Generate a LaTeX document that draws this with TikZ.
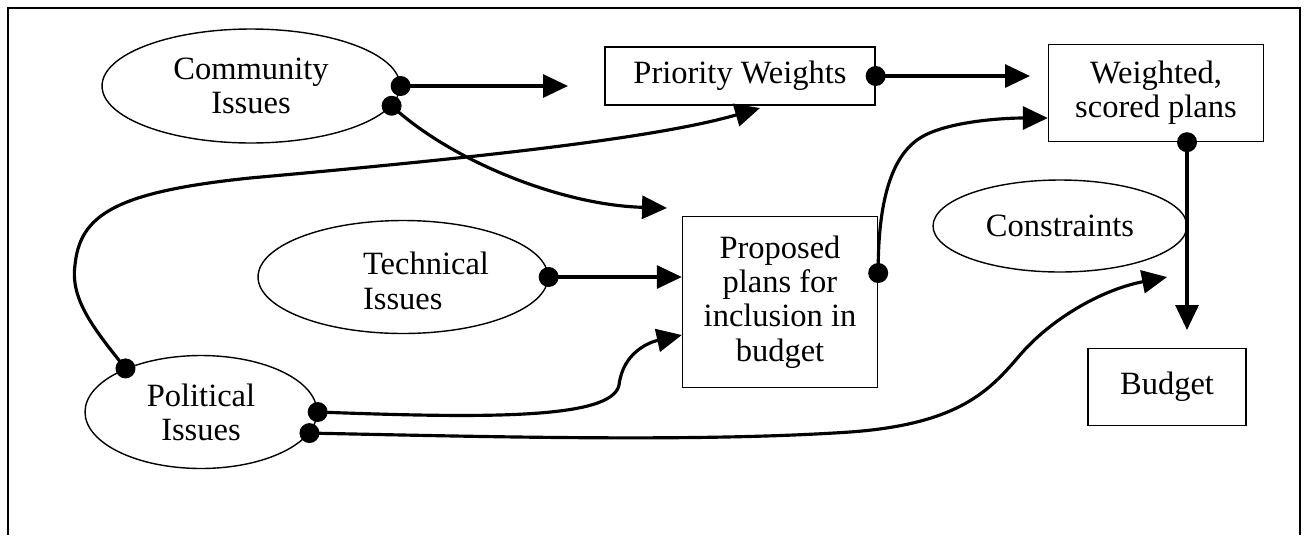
\documentclass[tikz,border=0pt]{standalone}
\usepackage{fontspec}
\setmainfont{Liberation Serif}
\usetikzlibrary{shapes.geometric,arrows.meta,calc}

\tikzset{
  issue/.style={draw, ellipse, line width=0.8pt, inner sep=0pt, align=center},
  plan/.style={draw, rectangle, line width=0.8pt, inner sep=0pt, align=center},
  link/.style={line width=1.8pt, -{Triangle[length=0.5cm,width=0.46cm]}},
}

\begin{document}
\begin{tikzpicture}[x=0.02cm, y=-0.02cm, font=\fontsize{18.5}{19.5}\selectfont]
                \useasboundingbox (0,0) rectangle (1307,535);
                \draw[line width=0.6pt] (8,535) -- (8,8) -- (1300,8) -- (1300,535);

                \node[issue, minimum width=5.96cm, minimum height=2.28cm] (comm) at (251,86) {Community\\Issues};
                \node[plan, minimum width=5.4cm, minimum height=1.16cm] (prio) at (740,76) {Priority Weights};
                \node[plan, minimum width=4.3cm, minimum height=1.94cm] (wsp) at (1156,93) {Weighted,\\scored plans};
                \node[issue, minimum width=5.8cm, minimum height=2.26cm] (tech) at (403,277) {};
                \node[align=left, inner sep=0pt] (techtext) at (426,281) {Technical\\Issues};
                \node[plan, minimum width=3.9cm, minimum height=3.42cm] (prop) at (780,302) {Proposed\\plans for\\inclusion in\\budget};
                \node[issue, minimum width=5.08cm, minimum height=1.84cm] (cons) at (1060,226) {Constraints};
                \node[plan, minimum width=3.16cm, minimum height=1.54cm] (bud) at (1167,387) {Budget};
                \node[issue, minimum width=4.64cm, minimum height=2.26cm] (pol) at (201,412) {Political\\Issues};

                \coordinate (c1end) at (568,86);
                \coordinate (c2end) at (667,208);
                \coordinate (c3end) at (760,108);
                \coordinate (p5end) at ($(prop.west)+(0,33)$);
                \coordinate (c6end) at (1167,277);
                \coordinate (p7start) at ($(prop.east)+(0,-29)$);
                \coordinate (p7end) at ($(wsp.west)+(0,25)$);
                \coordinate (pwend) at (1030,83);
                \coordinate (wspdot) at ($(wsp.south)+(31,0)$);
                \coordinate (wspend) at (1188,330);

                \draw[link] (comm.east) -- (c1end);
                \draw[link] (comm.-8) .. controls (450,160) and (560,205) .. (c2end);
                \draw[link] (pol.150) .. controls (95,330) and (70,300) .. (75,265)
                            .. controls (80,215) and (115,192) .. (250,178)
                            .. controls (450,160) and (650,140) .. (c3end);
                \draw[link] (tech.east) -- (tech.east -| prop.west);
                \draw[link] (pol.east) .. controls (480,418) and (612,420) .. (619,385)
                            .. controls (623,352) and (650,342) .. (p5end);
                \draw[link] (pol.-11) .. controls (500,437) and (700,442) .. (850,432)
                            .. controls (960,424) and (990,390) .. (1020,355)
                            .. controls (1050,320) and (1100,290) .. (c6end);
                \draw[link] (p7start) .. controls (878,220) and (885,160) .. (920,138)
                            .. controls (945,122) and (1000,118) .. (p7end);
                \draw[link] (prio.east) -- (prio.east -| pwend);
                \draw[link] (wspdot) -- (wspdot |- wspend);

                \fill (comm.east) circle (0.2cm);
                \fill (comm.-8) circle (0.2cm);
                \fill (pol.150) circle (0.2cm);
                \fill (pol.east) circle (0.2cm);
                \fill (pol.-11) circle (0.2cm);
                \fill (tech.east) circle (0.2cm);
                \fill (p7start) circle (0.2cm);
                \fill (prio.east) circle (0.2cm);
                \fill (wspdot) circle (0.2cm);
\end{tikzpicture}
\end{document}
